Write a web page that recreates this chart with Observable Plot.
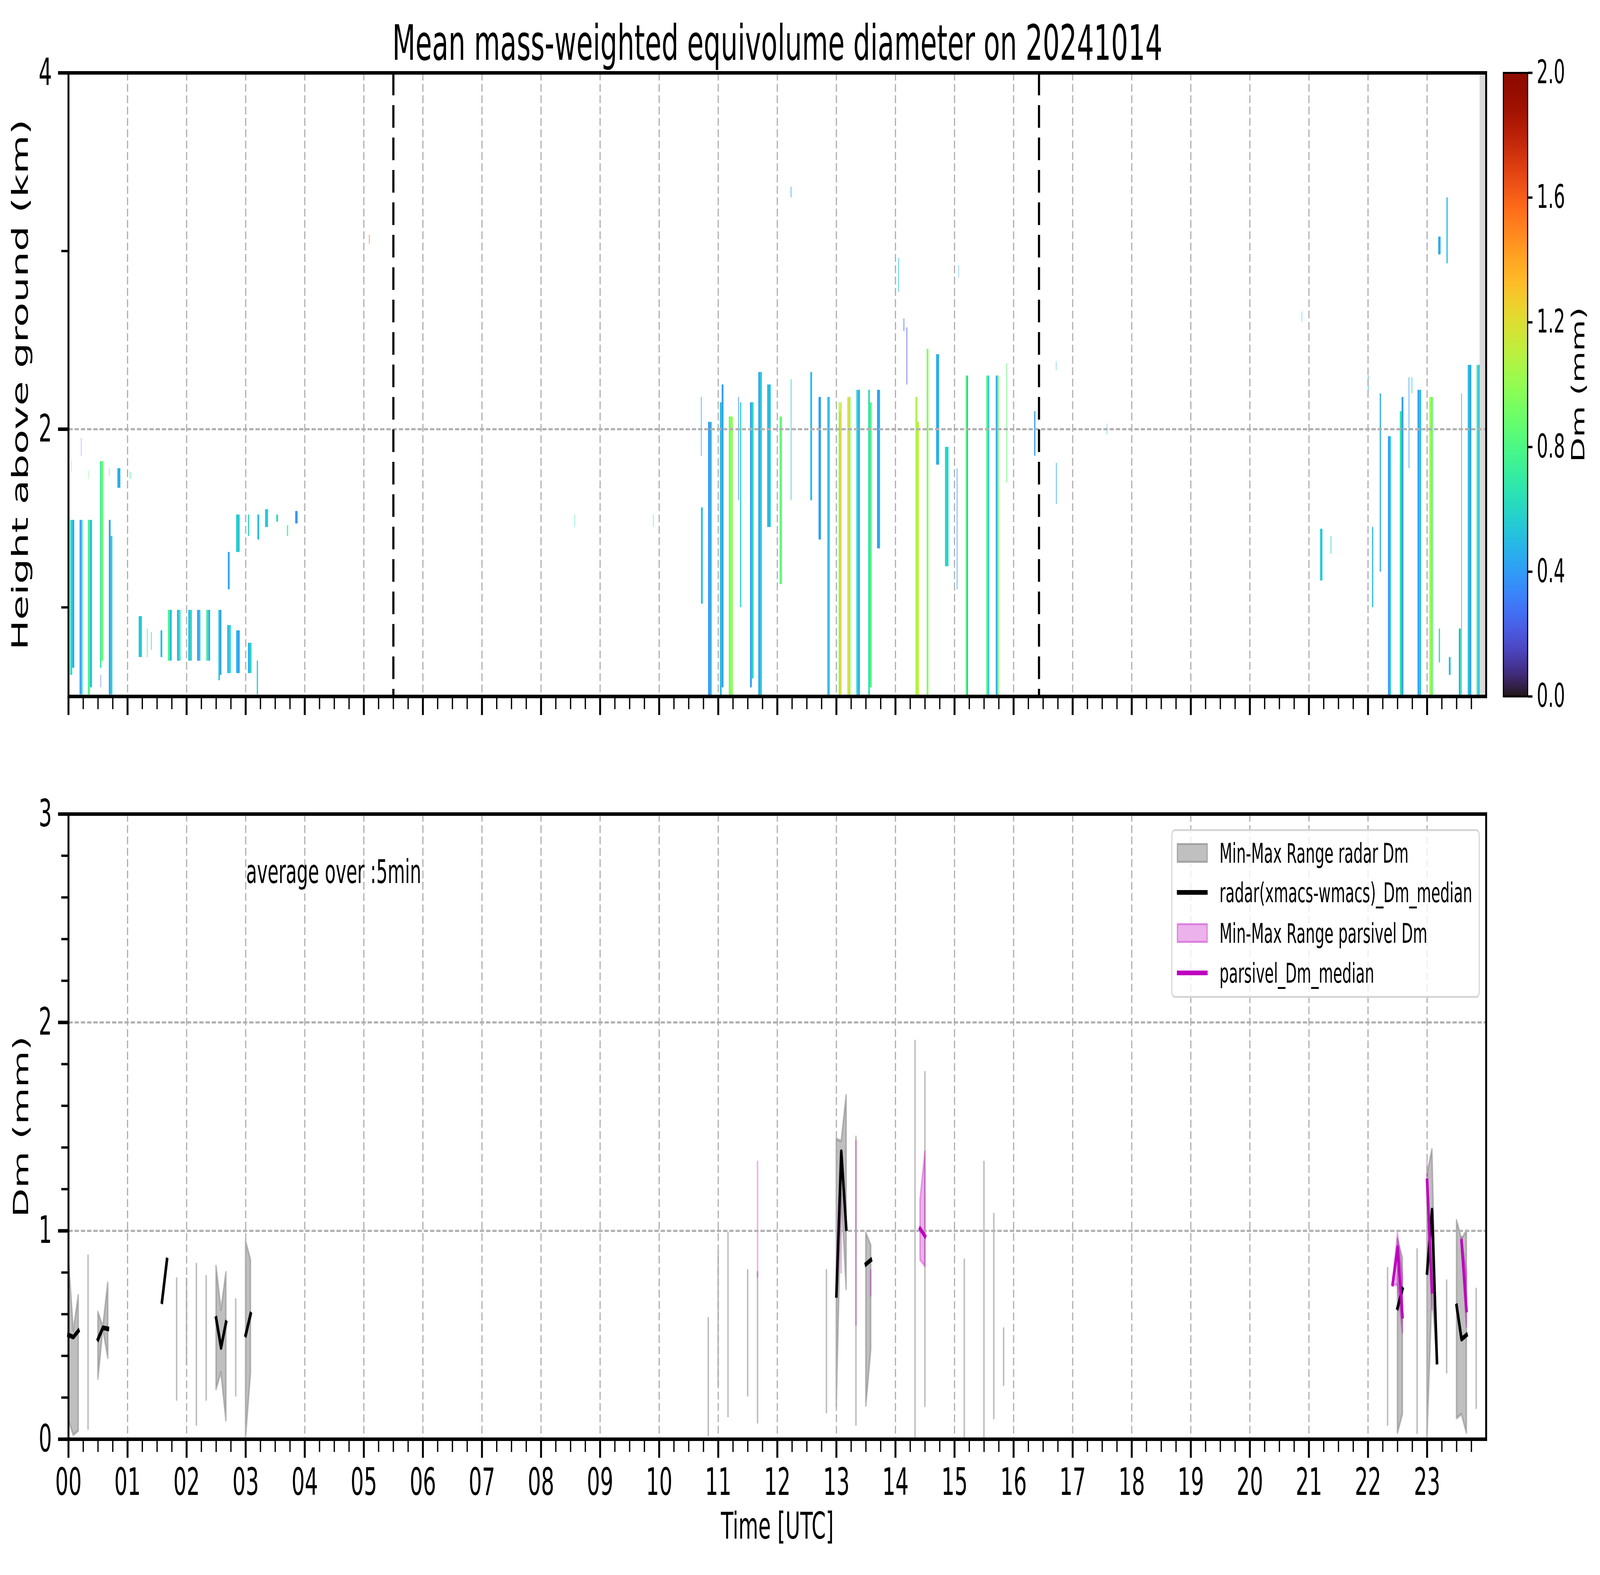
<!DOCTYPE html>
<html>
<head>
<meta charset="utf-8">
<script src="https://cdn.jsdelivr.net/npm/d3@7"></script>
<script src="https://cdn.jsdelivr.net/npm/@observablehq/plot@0.6"></script>
<style>
  html, body { margin: 0; padding: 0; background: #fff; overflow: hidden; }
  #page { position: relative; width: 7442px; height: 4031px; background: #fff; overflow: hidden;
          font-family: "DejaVu Sans", sans-serif; color: #000; transform-origin: 0 0; }
  .wrap { position: absolute; }
  #legend { position: absolute; box-sizing: border-box; border: 5px solid #d6d6d6; border-radius: 16px;
            background: rgba(255,255,255,0.8); }
  #legend .txt { position: absolute; font-size: 69px; line-height: 69px; white-space: nowrap; }
  #legend .patch { position: absolute; box-sizing: border-box; }
  #legend .ln { position: absolute; }
</style>
</head>
<body>
<div id="page"></div>
<script>
// ---------------- data ----------------
const titleText = "Mean mass-weighted equivolume diameter on 20241014";
const hourLabels = ["00","01","02","03","04","05","06","07","08","09","10","11",
                    "12","13","14","15","16","17","18","19","20","21","22","23"];
const hourTicks = [0,1,2,3,4,5,6,7,8,9,10,11,12,13,14,15,16,17,18,19,20,21,22,23];
const quarterTicks = d3.range(0, 24.001, 0.25).filter(d => d % 1 !== 0);
const heightTicks = [2, 4];
const heightMinorTicks = [1, 3];
const dmTicks = [0, 1, 2, 3];
const dmMinorTicks = [0.2,0.4,0.6,0.8,1.2,1.4,1.6,1.8,2.2,2.4,2.6,2.8];
const colorTicks = [0, 0.4, 0.8, 1.2, 1.6, 2.0];
const eventTimes = [5.5, 16.43];              // dashed black markers
const missingData = [{start: 23.89, end: 24}]; // grey band (no data)

// radar Dm cells: [t0 (h), t1 (h), bottom (km), top (km), Dm (mm)]
const radarCells = [
  // 00-01 UTC
  [0.030,0.065,0.62,1.49,0.62],[0.065,0.100,0.66,1.49,0.45],[0.045,0.050,1.76,1.82,0.80],
  [0.190,0.215,0.51,1.49,0.40],[0.215,0.240,0.51,1.49,0.60],[0.215,0.220,1.85,1.95,0.30],
  [0.330,0.365,0.51,1.49,0.78],[0.365,0.400,0.55,1.49,0.50],[0.340,0.345,1.72,1.77,0.85],
  [0.535,0.560,0.66,1.82,0.72],[0.560,0.590,0.70,1.82,0.88],[0.545,0.552,0.55,0.62,0.25],
  [0.685,0.715,0.51,1.49,0.42],[0.715,0.745,0.51,1.40,0.58],[0.690,0.695,1.74,1.78,0.45],
  [0.830,0.880,1.67,1.78,0.45],
  // 01-04 UTC
  [1.040,1.050,1.72,1.76,0.70],[1.190,1.245,0.72,0.95,0.55],[1.330,1.340,0.72,0.88,0.75],
  [1.400,1.410,0.76,0.86,0.60],[1.560,1.590,0.72,0.87,0.50],
  [1.685,1.715,0.70,0.985,0.78],[1.715,1.750,0.70,0.985,0.50],
  [1.840,1.870,0.70,0.985,0.45],[1.870,1.900,0.70,0.985,0.72],
  [2.030,2.060,0.70,0.985,0.50],[2.060,2.090,0.70,0.985,0.58],
  [2.180,2.210,0.70,0.985,0.40],[2.210,2.235,0.70,0.985,0.55],
  [2.335,2.370,0.70,0.985,0.72],[2.370,2.400,0.70,0.985,0.45],
  [2.540,2.565,0.59,0.985,0.55],[2.565,2.590,0.62,0.985,0.40],
  [2.690,2.720,0.63,0.90,0.48],[2.720,2.750,0.63,0.90,0.58],[2.700,2.730,1.10,1.31,0.42],
  [2.840,2.870,0.63,0.87,0.50],[2.870,2.900,0.63,0.87,0.40],[2.840,2.900,1.31,1.52,0.55],
  [3.040,3.070,0.63,0.80,0.45],[3.070,3.100,0.63,0.80,0.58],[3.190,3.210,0.51,0.70,0.55],
  [3.040,3.060,1.40,1.52,0.60],[3.200,3.230,1.38,1.52,0.50],[3.330,3.380,1.45,1.55,0.55],
  [3.520,3.550,1.48,1.52,0.62],[3.700,3.720,1.40,1.46,0.80],[3.840,3.880,1.47,1.54,0.38],
  // isolated echoes
  [5.090,5.100,3.04,3.09,1.50],[8.570,8.576,1.45,1.52,0.65],[9.900,9.906,1.45,1.52,0.65],
  // 10.7-16.4 UTC
  [10.710,10.740,1.02,1.56,0.50],[10.710,10.720,1.85,2.18,0.45],
  [10.830,10.860,0.50,2.04,0.38],[10.860,10.890,0.50,2.04,0.45],
  [11.030,11.060,0.50,2.15,0.50],[11.060,11.090,0.55,2.25,0.40],
  [11.180,11.210,0.50,2.07,0.90],[11.210,11.250,0.50,2.07,1.00],
  [11.340,11.350,1.60,2.18,0.30],[11.370,11.390,1.00,2.15,0.60],
  [11.540,11.570,0.55,2.15,0.40],[11.570,11.600,0.60,2.15,0.60],
  [11.680,11.710,0.50,2.32,0.42],[11.710,11.740,0.50,2.32,0.55],
  [11.830,11.890,1.45,2.25,0.50],[12.040,12.080,1.13,2.07,0.85],
  [12.230,12.240,1.60,2.28,0.55],[12.230,12.240,3.30,3.36,0.45],
  [12.560,12.590,1.60,2.32,0.50],[12.700,12.740,1.38,2.18,0.40],
  [12.850,12.870,0.50,2.18,0.45],[12.870,12.890,0.50,2.18,0.55],
  [13.040,13.058,0.50,2.15,1.00],[13.058,13.064,0.50,2.10,1.55],[13.064,13.090,0.50,2.15,1.15],
  [13.190,13.196,0.50,2.18,1.50],[13.196,13.215,0.50,2.18,1.20],[13.215,13.240,0.50,2.18,0.95],
  [13.340,13.370,0.50,2.22,0.60],[13.370,13.400,0.50,2.22,0.45],
  [13.540,13.570,0.50,2.22,0.65],[13.570,13.600,0.55,2.15,0.80],
  [13.690,13.740,1.33,2.22,0.42],
  [14.050,14.060,2.77,2.96,0.50],[14.140,14.150,2.55,2.62,0.25],[14.190,14.200,2.25,2.57,0.20],
  [14.340,14.370,0.50,2.18,1.05],[14.370,14.400,0.50,2.04,1.15],
  [14.530,14.560,0.50,2.45,0.95],[14.690,14.740,1.80,2.42,0.45],
  [14.840,14.900,1.23,1.90,0.60],[15.040,15.050,1.10,1.78,0.40],[15.070,15.076,2.85,2.92,0.45],
  [15.190,15.210,0.50,2.30,0.85],[15.210,15.230,0.50,2.30,0.50],
  [15.540,15.565,0.50,2.30,0.80],[15.565,15.590,0.50,2.30,0.55],
  [15.700,15.725,0.50,2.30,0.45],[15.725,15.750,0.50,2.30,0.90],
  [15.880,15.890,1.70,2.37,0.85],[16.350,16.370,1.85,2.10,0.40],
  // afternoon / evening
  [16.720,16.730,1.58,1.81,0.45],[16.720,16.726,2.33,2.38,0.50],[17.580,17.586,1.97,2.03,0.50],
  [20.880,20.886,2.60,2.66,0.50],[21.190,21.230,1.15,1.44,0.55],[21.370,21.380,1.30,1.40,0.60],
  // 22-24 UTC
  [22.000,22.010,2.20,2.30,0.50],[22.070,22.090,1.00,1.45,0.50],[22.200,22.220,1.20,2.20,0.45],
  [22.340,22.365,0.50,1.96,0.38],[22.365,22.390,0.50,1.96,0.55],
  [22.540,22.570,0.50,2.10,0.65],[22.570,22.600,0.50,2.18,0.40],
  [22.690,22.700,1.78,2.29,0.40],[22.740,22.750,2.20,2.29,0.60],
  [22.840,22.870,0.50,2.22,0.42],[22.870,22.900,0.50,2.22,0.50],
  [23.040,23.070,0.50,2.18,1.05],[23.070,23.100,0.50,2.18,0.85],
  [23.190,23.230,2.98,3.08,0.45],[23.330,23.350,2.93,3.30,0.50],
  [23.200,23.220,0.69,0.88,0.60],[23.370,23.400,0.62,0.72,0.50],
  [23.540,23.565,0.50,0.88,0.40],[23.565,23.590,0.50,0.88,0.70],[23.580,23.590,0.88,2.20,0.45],
  [23.690,23.720,0.50,2.36,0.50],[23.720,23.750,0.50,2.36,0.42],
  [23.840,23.870,0.50,2.36,0.70],[23.870,23.890,0.50,2.36,0.45]
];

// 5-min radar Dm segments: [time (h), min, max, median]
const radarDm = [
  [[0.000,0.09,0.87,0.50],[0.083,0.02,0.52,0.49],[0.167,0.04,0.69,0.52]],
  [[0.333,0.05,0.88,null]],
  [[0.500,0.29,0.61,0.48],[0.583,0.53,0.54,0.535],[0.667,0.39,0.75,0.53]],
  [[1.583,0.66,0.66,0.66],[1.667,0.86,0.86,0.86]],
  [[1.833,0.19,0.77,null]],
  [[2.000,0.36,0.77,null]],
  [[2.167,0.07,0.84,null]],
  [[2.333,0.19,0.78,null]],
  [[2.500,0.24,0.83,0.58],[2.583,0.32,0.62,0.44],[2.667,0.09,0.80,0.56]],
  [[2.833,0.21,0.67,null]],
  [[3.000,0.01,0.95,0.50],[3.083,0.32,0.86,0.60]],
  [[10.833,0.02,0.58,null]],
  [[11.000,0.26,0.90,null]],
  [[11.167,0.11,0.99,null]],
  [[11.500,0.21,0.81,null]],
  [[11.667,0.08,0.80,null]],
  [[12.833,0.13,0.81,null]],
  [[13.000,0.16,1.44,0.69],[13.083,1.18,1.43,1.38],[13.167,0.72,1.65,1.01]],
  [[13.333,0.07,1.45,null]],
  [[13.500,0.16,0.99,0.84],[13.583,0.43,0.93,0.86]],
  [[14.333,0.01,1.91,null]],
  [[14.500,0.16,1.76,null]],
  [[15.167,0.01,0.86,null]],
  [[15.500,0.01,1.33,null]],
  [[15.667,0.10,1.08,null]],
  [[15.833,0.26,0.53,null]],
  [[22.333,0.07,0.82,null]],
  [[22.500,0.03,0.96,0.63],[22.583,0.12,0.87,0.72]],
  [[22.833,0.03,0.91,null]],
  [[23.000,0.01,1.27,0.80],[23.083,0.70,1.39,1.10],[23.167,0.37,0.37,0.37]],
  [[23.333,0.32,0.76,null]],
  [[23.500,0.10,1.05,0.64],[23.583,0.12,0.96,0.48],[23.667,0.03,1.00,0.50]],
  [[23.833,0.15,0.72,null]]
];

// 5-min parsivel Dm segments: [time (h), min, max, median]
const parsivelDm = [
  [[11.667,0.78,1.33,null]],
  [[13.083,0.80,1.28,null]],
  [[13.333,0.55,1.43,null]],
  [[13.583,0.69,0.81,null]],
  [[14.417,0.86,1.15,1.01],[14.500,0.83,1.38,0.975]],
  [[22.417,0.74,0.75,0.745],[22.500,0.74,0.99,0.92],[22.583,0.51,0.78,0.59]],
  [[23.000,1.20,1.33,1.24],[23.083,0.62,0.76,0.71]],
  [[23.583,0.92,0.97,0.95],[23.667,0.54,0.80,0.62]]
];

const legendItems = [
  {label: "Min-Max Range radar Dm", kind: "patch", fill: "#c0c0c0", edge: "#a4a4a4"},
  {label: "radar(xmacs-wmacs)_Dm_median", kind: "line", color: "#000000"},
  {label: "Min-Max Range parsivel Dm", kind: "patch", fill: "#ecb2ec", edge: "#de80de"},
  {label: "parsivel_Dm_median", kind: "line", color: "#bf00bf"}
];

// ---------------- helpers ----------------
const FONT = "DejaVu Sans";
const cells = radarCells.map(([t0, t1, h0, h1, dm]) => ({t0, t1, h0, h1, dm}));
const flat = segs => segs.flatMap((seg, k) => seg.map(([t, lo, hi, med]) => ({seg: k, t, lo, hi, med})));
const radarRows = flat(radarDm);
const parsRows = flat(parsivelDm);

const gridStyle = {stroke: "#b0b0b0", strokeOpacity: 1, strokeWidth: 5.5, strokeDasharray: "20,9"};
function xAxes(withLabels) {
  return [
    Plot.axisX({ticks: hourTicks, tickSize: 48, strokeWidth: 9, tickPadding: 26, fontSize: 97, label: null,
                tickFormat: withLabels ? (d => hourLabels[d]) : (() => "")}),
    Plot.axisX({ticks: quarterTicks, tickSize: 33, strokeWidth: 6, label: null, tickFormat: () => ""})
  ];
}
function yAxes(major, minor) {
  return [
    Plot.axisY({ticks: major, tickSize: 48, strokeWidth: 9, tickPadding: 29, fontSize: 97, label: null,
                tickFormat: d => String(d)}),
    Plot.axisY({ticks: minor, tickSize: 33, strokeWidth: 6, label: null, tickFormat: () => ""})
  ];
}
const page = document.getElementById("page");
// fit the 7442x4031 figure into the actual browser window (which may be narrower)
const sx = Math.min(1, window.innerWidth / 7442);
const sy = Math.min(1, window.innerHeight / 4031);
page.style.transform = `scale(${sx}, ${sy})`;

function place(node, left, top, w) {
  const wrap = document.createElement("div");
  wrap.className = "wrap";
  wrap.style.left = left + "px";
  wrap.style.top = top + "px";
  wrap.style.width = w + "px";
  wrap.appendChild(node);
  page.appendChild(wrap);
}
const colorScale = {type: "linear", domain: [0, 2], scheme: "turbo"};

// ---------------- top panel ----------------
const topPlot = Plot.plot({
  width: 7442, height: 1960,
  marginLeft: 318, marginRight: 530, marginTop: 186, marginBottom: 178,
  x: {domain: [0, 24], axis: null},
  y: {domain: [0.5, 4], axis: null},
  color: colorScale,
  style: {fontFamily: FONT, background: "transparent", color: "black"},
  marks: [
    Plot.rect(missingData, {x1: "start", x2: "end", fill: "#d9d9d9"}),
    Plot.rect(cells, {x1: "t0", x2: "t1", y1: "h0", y2: "h1", fill: "dm"}),
    Plot.gridX({ticks: hourTicks, ...gridStyle}),
    Plot.gridY({ticks: heightTicks, ...gridStyle}),
    Plot.ruleX(eventTimes, {stroke: "black", strokeWidth: 10, strokeDasharray: "58,25"}),
    Plot.frame({stroke: "black", strokeWidth: 9}),
    ...xAxes(false),
    ...yAxes(heightTicks, heightMinorTicks),
    Plot.text([titleText], {text: d => d, frameAnchor: "top", lineAnchor: "middle", dy: -74, fontSize: 125}),
    Plot.text(["Height above ground (km)"], {text: d => d, frameAnchor: "left", textAnchor: "middle",
                                             lineAnchor: "middle", rotate: -90, dx: -223, fontSize: 103})
  ]
});
place(topPlot, 0, 0, 7442);

// ---------------- colorbar ----------------
const ramp = d3.range(0, 2, 0.005);
const cbar = Plot.plot({
  width: 542, height: 1960,
  marginLeft: 92, marginRight: 337, marginTop: 186, marginBottom: 178,
  y: {domain: [0, 2], axis: null},
  color: colorScale,
  style: {fontFamily: FONT, background: "transparent", color: "black"},
  marks: [
    Plot.rect(ramp, {y1: d => d, y2: d => Math.min(2, d + 0.0065), fill: d => d}),
    Plot.frame({stroke: "black", strokeWidth: 5}),
    Plot.axisY({anchor: "right", ticks: colorTicks, tickFormat: d3.format(".1f"), tickSize: 22, strokeWidth: 6,
                tickPadding: 20, fontSize: 83, label: null}),
    Plot.text(["Dm (mm)"], {text: d => d, frameAnchor: "right", textAnchor: "middle", lineAnchor: "middle",
                            rotate: -90, dx: 238, fontSize: 83})
  ]
});
place(cbar, 6900, 0, 542);

// ---------------- bottom panel ----------------
const bottomPlot = Plot.plot({
  width: 7442, height: 2071,
  marginLeft: 318, marginRight: 530, marginTop: 123, marginBottom: 348,
  x: {domain: [0, 24], axis: null},
  y: {domain: [0, 3], axis: null},
  style: {fontFamily: FONT, background: "transparent", color: "black"},
  marks: [
    Plot.areaY(radarRows, {x: "t", y1: "lo", y2: "hi", z: "seg", fill: "gray", fillOpacity: 0.5,
                           stroke: "gray", strokeOpacity: 0.5, strokeWidth: 7, strokeLinejoin: "round"}),
    Plot.areaY(parsRows, {x: "t", y1: "lo", y2: "hi", z: "seg", fill: "#bf00bf", fillOpacity: 0.3,
                          stroke: "#bf00bf", strokeOpacity: 0.3, strokeWidth: 7, strokeLinejoin: "round"}),
    Plot.gridX({ticks: hourTicks, ...gridStyle}),
    Plot.gridY({ticks: dmTicks, ...gridStyle}),
    Plot.lineY(radarRows.filter(d => d.med != null), {x: "t", y: "med", z: "seg", stroke: "black",
                           strokeWidth: 12, strokeLinecap: "square", strokeLinejoin: "round"}),
    Plot.lineY(parsRows.filter(d => d.med != null), {x: "t", y: "med", z: "seg", stroke: "#bf00bf",
                          strokeWidth: 12, strokeLinecap: "square", strokeLinejoin: "round"}),
    Plot.frame({stroke: "black", strokeWidth: 9}),
    ...xAxes(true),
    ...yAxes(dmTicks, dmMinorTicks),
    Plot.text(["average over :5min"], {text: d => d, frameAnchor: "top-left", dx: 826, dy: 118,
                                       textAnchor: "start", fontSize: 83}),
    Plot.text(["Dm (mm)"], {text: d => d, frameAnchor: "left", textAnchor: "middle", lineAnchor: "middle",
                            rotate: -90, dx: -219, fontSize: 97}),
    Plot.text(["Time [UTC]"], {text: d => d, frameAnchor: "bottom", lineAnchor: "middle", dy: 224, fontSize: 95})
  ]
});
place(bottomPlot, 0, 1960, 7442);

// ---------------- legend ----------------
const legend = document.createElement("div");
legend.id = "legend";
legend.style.left = "5448px"; legend.style.top = "2122px";
legend.style.width = "1435px"; legend.style.height = "432px";
const rowCenters = [56, 157, 261, 363];
legendItems.forEach((it, i) => {
  const c = rowCenters[i];
  if (it.kind === "patch") {
    const p = document.createElement("div");
    p.className = "patch";
    p.style.cssText = `left:21px;top:${c - 25}px;width:143px;height:50px;background:${it.fill};border:5px solid ${it.edge};`;
    legend.appendChild(p);
  } else {
    const l = document.createElement("div");
    l.className = "ln";
    l.style.cssText = `left:21px;top:${c - 6}px;width:143px;height:12px;background:${it.color};`;
    legend.appendChild(l);
  }
  const t = document.createElement("div");
  t.className = "txt";
  t.style.left = "219px";
  t.style.top = (c - 33) + "px";
  t.textContent = it.label;
  legend.appendChild(t);
});
page.appendChild(legend);
</script>
</body>
</html>
